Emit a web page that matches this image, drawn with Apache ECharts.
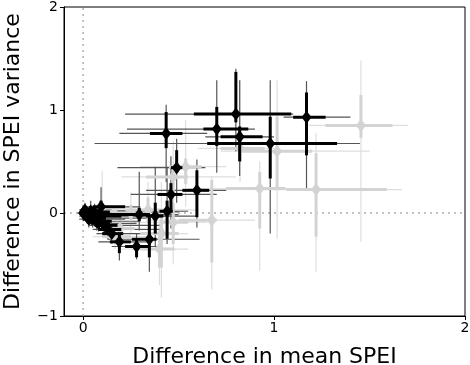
<!DOCTYPE html>
<html>
<head>
<meta charset="utf-8">
<script src="https://cdn.jsdelivr.net/npm/echarts@6/dist/echarts.min.js"></script>
<style>
  html, body { margin: 0; padding: 0; background: #fff; }
  #chart { width: 470px; height: 365px; }
</style>
</head>
<body>
<div id="chart"></div>
<script>
// columns: x, y, xThinLo, xThinHi, xThickLo, xThickHi, yThinLo, yThinHi, yThickLo, yThickHi
var darkPoints = [
  [0.435, 0.773, 0.19, 0.65, 0.35, 0.52, 0.30, 1.05, 0.63, 0.98],
  [0.70, 0.815, 0.23, 0.90, 0.63, 0.865, 0.39, 1.29, 0.65, 1.03],
  [0.80, 0.96, 0.22, 1.10, 0.58, 1.09, 0.60, 1.40, 0.88, 1.37],
  [0.82, 0.74, 0.64, 1.00, 0.72, 0.94, 0.36, 1.29, 0.50, 0.84],
  [0.98, 0.675, 0.06, 1.45, 0.65, 1.33, -0.20, 1.29, 0.335, 0.935],
  [1.17, 0.93, 1.05, 1.40, 1.10, 1.27, 0.24, 1.28, 0.56, 1.17],
  [0.49, 0.44, 0.18, 0.64, 0.46, 0.52, 0.10, 0.72, 0.39, 0.61],
  [0.596, 0.22, 0.33, 0.75, 0.52, 0.66, -0.14, 0.52, -0.04, 0.415],
  [0.46, 0.18, 0.25, 0.70, 0.39, 0.52, -0.15, 0.55, 0.03, 0.29],
  [0.44, 0.017, 0.30, 0.55, 0.40, 0.47, -0.30, 0.45, -0.25, 0.12],
  [0.378, -0.03, 0.25, 0.60, 0.33, 0.42, -0.33, 0.45, -0.20, 0.10],
  [0.294, -0.015, 0.00, 0.50, 0.10, 0.35, -0.17, 0.40, -0.08, 0.05],
  [0.347, -0.255, 0.13, 0.61, 0.255, 0.385, -0.57, 0.05, -0.43, -0.04],
  [0.28, -0.325, 0.15, 0.40, 0.22, 0.35, -0.45, -0.20, -0.43, -0.25],
  [0.19, -0.28, 0.08, 0.35, 0.14, 0.25, -0.46, -0.15, -0.39, -0.20],
  [0.094, 0.06, 0.00, 0.30, 0.05, 0.22, -0.05, 0.25, 0.00, 0.12],
  [0.00, 0.00, -0.03, 0.12, -0.02, 0.05, -0.08, 0.08, -0.04, 0.04],
  [0.02, -0.03, -0.02, 0.20, 0.00, 0.08, -0.10, 0.05, -0.06, 0.01],
  [0.04, 0.02, 0.00, 0.25, 0.01, 0.10, -0.05, 0.12, -0.01, 0.06],
  [0.05, -0.05, 0.00, 0.35, 0.02, 0.12, -0.14, 0.04, -0.09, -0.01],
  [0.07, -0.08, 0.01, 0.30, 0.03, 0.15, -0.17, 0.02, -0.12, -0.04],
  [0.03, -0.06, -0.02, 0.22, 0.00, 0.09, -0.14, 0.03, -0.10, -0.02],
  [0.09, -0.03, 0.02, 0.45, 0.05, 0.20, -0.12, 0.06, -0.07, 0.01],
  [0.11, -0.12, 0.03, 0.40, 0.06, 0.18, -0.22, -0.02, -0.16, -0.08],
  [0.13, -0.16, 0.05, 0.42, 0.08, 0.20, -0.26, -0.06, -0.20, -0.12],
  [0.15, -0.20, 0.07, 0.30, 0.10, 0.21, -0.30, -0.10, -0.24, -0.16],
  [0.06, 0.01, 0.00, 0.50, 0.02, 0.14, -0.06, 0.09, -0.02, 0.04],
  [0.08, -0.10, 0.02, 0.28, 0.04, 0.14, -0.18, -0.02, -0.14, -0.06],
  [0.01, 0.03, -0.02, 0.15, -0.01, 0.06, -0.04, 0.10, 0.00, 0.06]
];
var lightPoints = [
  [1.455, 0.85, 1.18, 1.70, 1.27, 1.62, -0.28, 1.48, 0.73, 1.146],
  [1.016, 0.60, 0.72, 1.50, 0.82, 1.20, -0.25, 1.29, 0.25, 0.935],
  [0.822, 0.627, 0.60, 1.00, 0.72, 0.95, 0.30, 1.29, 0.50, 0.80],
  [0.925, 0.237, 0.55, 1.10, 0.75, 1.06, -0.56, 0.50, -0.15, 0.40],
  [1.22, 0.227, 0.90, 1.67, 1.065, 1.59, -0.57, 0.78, -0.23, 0.58],
  [0.674, -0.07, 0.35, 0.90, 0.50, 0.70, -0.74, 0.35, -0.48, 0.32],
  [0.537, 0.45, 0.30, 0.75, 0.45, 0.62, 0.06, 0.90, 0.28, 0.53],
  [0.472, 0.35, 0.20, 0.80, 0.33, 0.55, -0.10, 0.70, 0.20, 0.45],
  [0.34, 0.03, 0.10, 0.60, 0.22, 0.45, -0.30, 0.30, -0.10, 0.15],
  [0.41, -0.20, 0.20, 0.55, 0.30, 0.50, -0.82, 0.30, -0.53, -0.04],
  [0.472, -0.09, 0.25, 0.65, 0.40, 0.55, -0.50, 0.40, -0.30, 0.10],
  [0.193, -0.15, 0.05, 0.40, 0.13, 0.27, -0.30, 0.00, -0.20, -0.10],
  [0.167, -0.23, 0.05, 0.35, 0.10, 0.25, -0.35, -0.10, -0.28, -0.18],
  [0.10, 0.02, -0.02, 0.30, 0.04, 0.18, -0.10, 0.41, -0.04, 0.10],
  [0.40, -0.35, 0.20, 0.55, 0.30, 0.48, -0.70, -0.10, -0.53, -0.20],
  [0.25, 0.00, 0.05, 0.45, 0.15, 0.32, -0.20, 0.20, -0.08, 0.08]
];
var xTicks = [0, 1, 2];
var yTicks = [-1, 0, 1, 2];
var xRange = [-0.1, 2];
var yRange = [-1, 2];
// zero reference lines: [x, y] crossing point
var zeroLines = [[0, 0]];

function errorBars(thick, color, width, marker) {
  return function (params, api) {
    var lo = thick ? 4 : 2;
    var ylo = thick ? 8 : 6;
    var x = api.value(0), y = api.value(1);
    var a = api.coord([api.value(lo), y]);
    var b = api.coord([api.value(lo + 1), y]);
    var c = api.coord([x, api.value(ylo)]);
    var d = api.coord([x, api.value(ylo + 1)]);
    var st = { stroke: color, lineWidth: width, lineCap: 'butt' };
    var kids = [
      { type: 'line', shape: { x1: a[0], y1: a[1], x2: b[0], y2: b[1] }, style: st },
      { type: 'line', shape: { x1: c[0], y1: c[1], x2: d[0], y2: d[1] }, style: st }
    ];
    if (marker) {
      var p = api.coord([x, y]);
      kids.push({
        type: 'polygon',
        shape: { points: [[p[0], p[1] - 6.5], [p[0] + 5, p[1]], [p[0], p[1] + 6.5], [p[0] - 5, p[1]]] },
        style: { fill: color }
      });
    }
    return { type: 'group', children: kids };
  };
}

function zeroRender(params, api) {
  var x = api.value(0), y = api.value(1);
  var h1 = api.coord([xRange[0], y]), h2 = api.coord([xRange[1], y]);
  var v1 = api.coord([x, yRange[0]]), v2 = api.coord([x, yRange[1]]);
  var st = { stroke: '#b0b0b0', lineWidth: 1.5, lineDash: [2, 4], fill: null };
  return {
    type: 'group', children: [
      { type: 'line', shape: { x1: h1[0], y1: h1[1], x2: h2[0], y2: h2[1] }, style: st },
      { type: 'line', shape: { x1: v1[0], y1: v1[1], x2: v2[0], y2: v2[1] }, style: st }
    ]
  };
}

var chart = echarts.init(document.getElementById('chart'));
var font = 'DejaVu Sans';
chart.setOption({
  animation: false,
  grid: {
    left: 64, right: 5, top: 7, bottom: 49, outerBoundsMode: 'none', containLabel: false,
    show: true, borderColor: '#000', borderWidth: 1
  },
  xAxis: {
    type: 'value', min: xRange[0], max: xRange[1],
    name: 'Difference in mean SPEI', nameLocation: 'middle', nameGap: 30,
    nameTextStyle: { fontFamily: font, fontSize: 22, color: '#000' },
    axisLine: { show: true, onZero: false, lineStyle: { color: '#000' } },
    axisTick: { show: true, length: 4, customValues: xTicks, lineStyle: { color: '#000' } },
    axisLabel: { customValues: xTicks, fontFamily: font, fontSize: 14, color: '#000', margin: 5 },
    splitLine: { show: false }
  },
  yAxis: {
    type: 'value', min: yRange[0], max: yRange[1], interval: 1,
    name: 'Difference in SPEI variance', nameLocation: 'middle', nameGap: 40,
    nameTextStyle: { fontFamily: font, fontSize: 22, color: '#000' },
    axisLine: { show: true, onZero: false, lineStyle: { color: '#000' } },
    axisTick: { show: true, length: 4, lineStyle: { color: '#000' } },
    axisLabel: {
      fontFamily: font, fontSize: 14, color: '#000', margin: 6,
      formatter: function (v) { return yTicks.indexOf(v) >= 0 ? String(v).replace('-', '\u2212') : ''; }
    },
    splitLine: { show: false }
  },
  series: [
    { type: 'custom', data: zeroLines, renderItem: zeroRender, silent: true, z: 0 },
    { type: 'custom', data: lightPoints, renderItem: errorBars(false, '#dedede', 1.2, false), z: 1 },
    { type: 'custom', data: darkPoints, renderItem: errorBars(false, '#555555', 1.2, false), z: 2 },
    { type: 'custom', data: lightPoints, renderItem: errorBars(true, '#d3d3d3', 3, true), z: 3 },
    { type: 'custom', data: darkPoints, renderItem: errorBars(true, '#000000', 3, true), z: 4 }
  ]
});
</script>
</body>
</html>
